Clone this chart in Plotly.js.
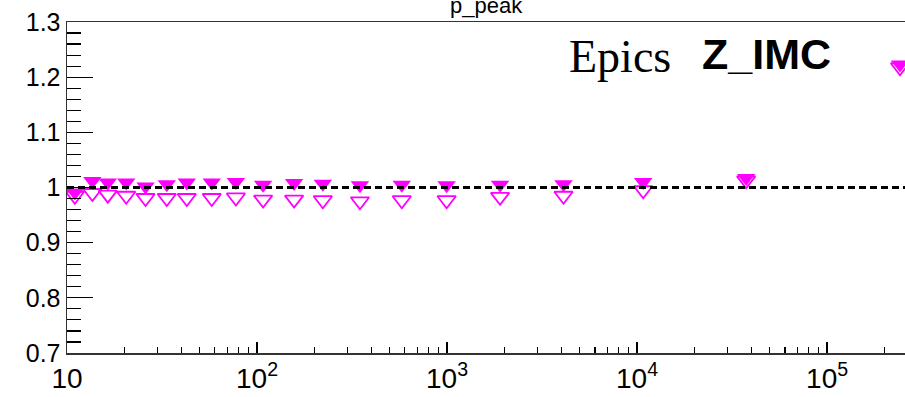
<!DOCTYPE html>
<html>
<head>
<meta charset="utf-8">
<script src="https://cdn.plot.ly/plotly-3.0.1.min.js"></script>
<style>html,body{margin:0;padding:0;background:#fff;overflow:hidden}#chart{width:905px;height:397px}</style>
</head>
<body>
<div id="chart"></div>
<script>
// Data
const xValues = [11.0, 13.6, 16.4, 20.5, 25.9, 33.5, 42.7, 57.8, 77.4, 107.6, 156.7, 222, 348, 578, 995, 1901, 4100, 10770, 37500, 242000];
const filledValues = [0.991, 1.012, 1.009, 1.009, 1.002, 1.006, 1.009, 1.009, 1.010, 1.005, 1.008, 1.007, 1.004, 1.005, 1.004, 1.005, 1.006, 1.010, 1.017, 1.223];
const openValues = [0.985, 0.990, 0.987, 0.985, 0.981, 0.981, 0.981, 0.981, 0.982, 0.978, 0.978, 0.977, 0.975, 0.977, 0.977, 0.983, 0.985, 0.995, 1.013, 1.218];
const refLine = 1;
const xTickVals = [10, 100, 1000, 10000, 100000];
const xTickText = ['10', '10<sup>2</sup>', '10<sup>3</sup>', '10<sup>4</sup>', '10<sup>5</sup>'];
const titleText = 'p_peak';
const label1 = 'Epics';
const label2 = 'Z_IMC';

const magenta = '#ff00ff';
const traces = [
  {
    x: xValues, y: openValues, type: 'scatter', mode: 'markers',
    marker: {symbol: 'triangle-down-open', size: 16, color: magenta, line: {color: magenta, width: 1.8}},
    hoverinfo: 'skip'
  },
  {
    x: xValues, y: filledValues, type: 'scatter', mode: 'markers',
    marker: {symbol: 'triangle-down', size: 16, color: magenta, line: {width: 0}},
    hoverinfo: 'skip'
  }
];

const font = {family: 'Liberation Sans, Arial, sans-serif', color: '#000'};
const layout = {
  width: 905, height: 397,
  margin: {l: 67, r: 0, t: 22, b: 44, pad: 0},
  paper_bgcolor: '#fff', plot_bgcolor: '#fff',
  showlegend: false,
  xaxis: {
    type: 'log', range: [1, 5.41], showgrid: false, zeroline: false,
    showline: true, linecolor: '#333', linewidth: 1.5, mirror: true,
    ticks: 'inside', ticklen: 11, tickwidth: 1.2, tickcolor: '#000',
    tickvals: xTickVals, ticktext: xTickText,
    tickfont: Object.assign({size: 28}, font),
    minor: {ticks: 'inside', ticklen: 6, tickwidth: 1.2, tickcolor: '#000', dtick: 'D1', showgrid: false}
  },
  yaxis: {
    range: [0.7, 1.3], showgrid: false, zeroline: false,
    showline: true, linecolor: '#333', linewidth: 1.5,
    ticks: 'inside', ticklen: 26, tickwidth: 1.2, tickcolor: '#000',
    tick0: 0.7, dtick: 0.1,
    tickfont: Object.assign({size: 25}, font),
    minor: {ticks: 'inside', ticklen: 14, tickwidth: 1.2, tickcolor: '#000', dtick: 0.02, showgrid: false}
  },
  shapes: [
    {type: 'line', xref: 'paper', x0: 0, x1: 1, yref: 'y', y0: refLine, y1: refLine,
     line: {color: '#000', width: 3, dash: '7px,4px'}, layer: 'above'}
  ],
  annotations: [
    {text: titleText, xref: 'paper', yref: 'paper', x: 0.5, y: 1, yanchor: 'bottom', yshift: 2,
     xanchor: 'center', showarrow: false, font: Object.assign({size: 22}, font)},
    {text: label1, xref: 'paper', yref: 'paper', x: 0.5967, y: 0.897, xanchor: 'left', yanchor: 'middle',
     showarrow: false, font: {family: 'Liberation Serif, Times New Roman, serif', size: 46, color: '#000'}},
    {text: '<b>' + label2 + '</b>', xref: 'paper', yref: 'paper', x: 0.7554, y: 0.903, xanchor: 'left', yanchor: 'middle',
     showarrow: false, font: {family: 'Liberation Sans, Arial, sans-serif', size: 43, color: '#000'}}
  ]
};

Plotly.newPlot('chart', traces, layout, {staticPlot: true, displayModeBar: false});
</script>
</body>
</html>
